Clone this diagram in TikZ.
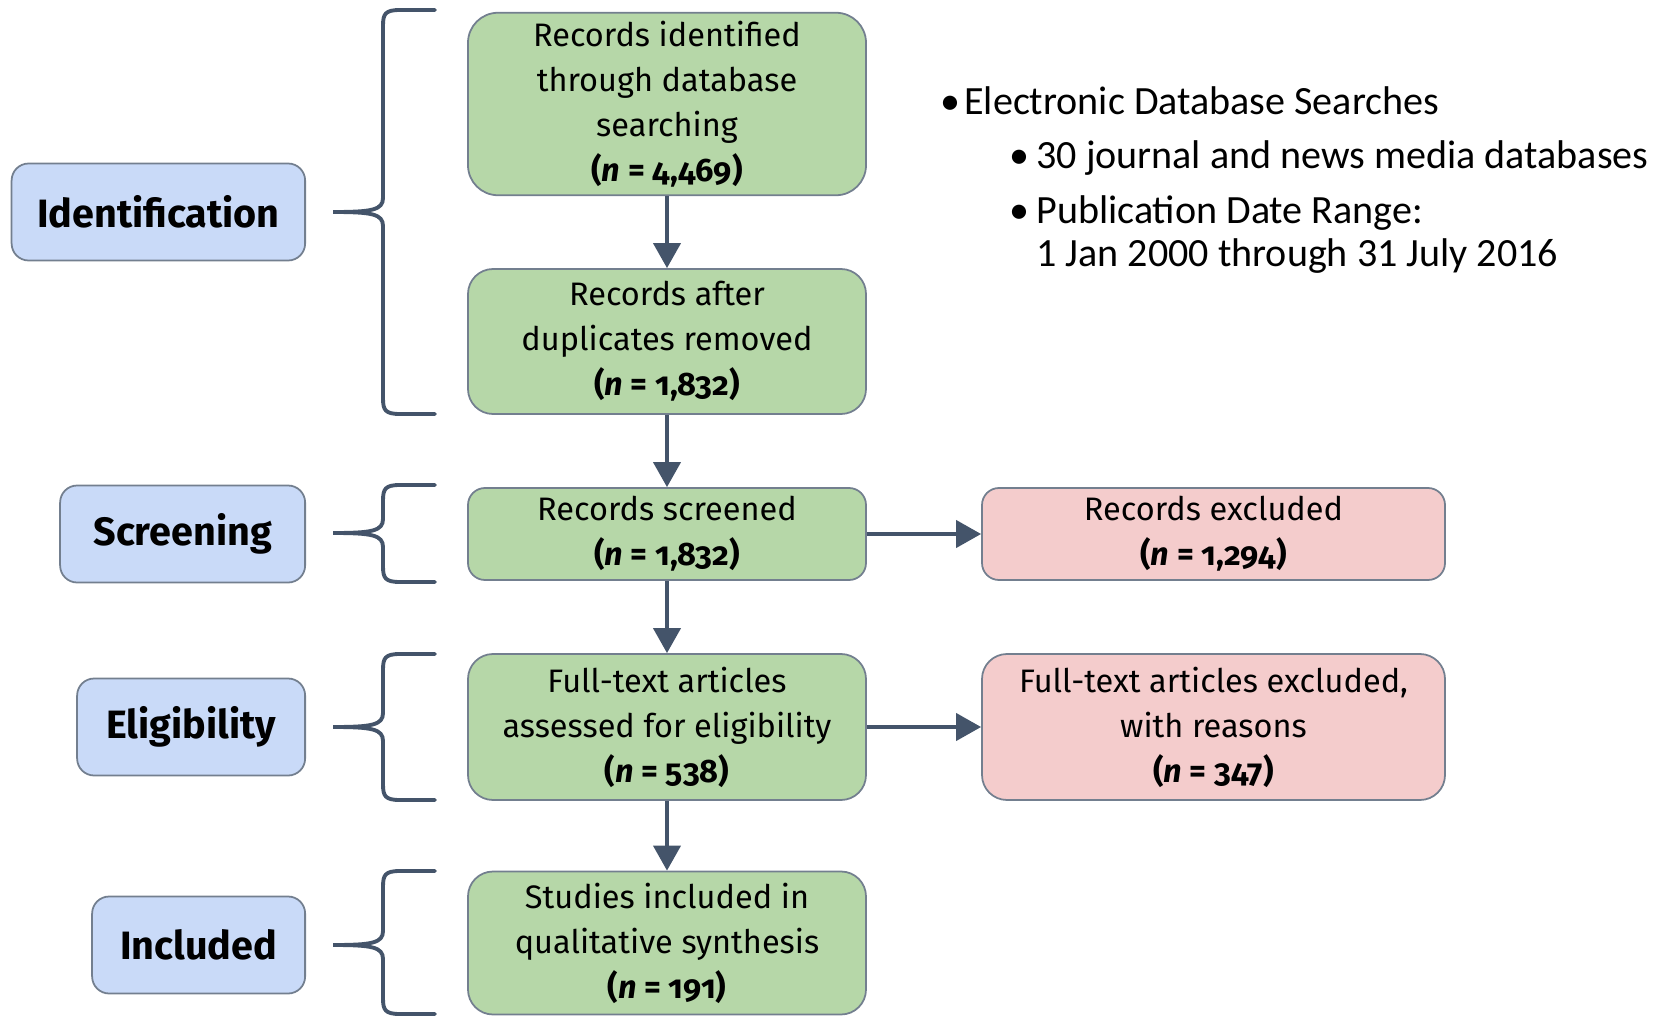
\documentclass[tikz,border=0pt]{standalone}
\usepackage{fontspec}
\setmainfont{Fira Sans}[Numbers=OldStyle]
\newfontfamily\notefont{Carlito}
\usetikzlibrary{arrows.meta, positioning}
\definecolor{stagegreen}{RGB}{182, 215, 168}
\definecolor{stageblue}{RGB}{201, 218, 248}
\definecolor{stagepink}{RGB}{244, 204, 204}
\definecolor{slate}{RGB}{68, 84, 106}

\begin{document}
\begin{tikzpicture}[x=0.2mm, y=-0.2mm,
  phase/.style={draw=slate!75, fill=stageblue, line width=1pt, rounded corners=3.4mm, minimum height=19.4mm, anchor=east, font=\fontsize{22.5}{26}\selectfont\bfseries},
  gbox/.style={draw=slate!75, fill=stagegreen, line width=1pt, minimum width=79.6mm, align=center, font=\fontsize{18.5}{25.6}\selectfont},
  rbox/.style={gbox, fill=stagepink, minimum width=92.6mm},
  flow/.style={draw=slate, line width=2.3pt, -{Triangle[length=5mm, width=5.4mm]}},
  brc/.style={draw=slate, line width=2.2pt},
  note/.style={anchor=base west, inner sep=0pt, font=\notefont\fontsize{22.8}{26}\selectfont}
]
  \useasboundingbox (0,0) rectangle (1656,1016);

  % phase labels
  \node[phase, minimum width=58.7mm] (ident) at (306, 212) {Identification};
  \node[phase, minimum width=49mm] (screen) at (306, 534) {Screening};
  \node[phase, minimum width=45.6mm] (elig) at (306, 727) {Eligibility};
  \node[phase, minimum width=42.6mm] (incl) at (306, 945) {Included};

  % flow boxes
  \node[gbox, minimum height=36.5mm, rounded corners=6mm] (found) at (667, 104) {Records identified\\through database\\searching\\\textbf{(\textit{n} = 4,469)}};
  \node[gbox, minimum height=29mm, rounded corners=5mm] (dedup) at (667, 341.5) {Records after\\duplicates removed\\\textbf{(\textit{n} = 1,832)}};
  \node[gbox, minimum height=18.4mm, rounded corners=3.4mm] (scrbox) at (667, 534) {Records screened\\\textbf{(\textit{n} = 1,832)}};
  \node[gbox, minimum height=29.2mm, rounded corners=5mm] (fulltext) at (667, 727) {Full-text articles\\assessed for eligibility\\\textbf{(\textit{n} = 538)}};
  \node[gbox, minimum height=28.6mm, rounded corners=5mm] (studies) at (667, 943) {Studies included in\\qualitative synthesis\\\textbf{(\textit{n} = 191)}};
  \node[rbox, minimum height=18.4mm, rounded corners=3.4mm] (excl) at (1213.5, 534) {Records excluded\\\textbf{(\textit{n} = 1,294)}};
  \node[rbox, minimum height=29.2mm, rounded corners=5mm] (exclft) at (1213.5, 727) {Full-text articles excluded,\\with reasons\\\textbf{(\textit{n} = 347)}};

  \draw[flow] (found) -- (dedup);
  \draw[flow] (dedup) -- (scrbox);
  \draw[flow] (scrbox) -- (fulltext);
  \draw[flow] (fulltext) -- (studies);
  \draw[flow] (scrbox) -- (excl);
  \draw[flow] (fulltext) -- (exclft);

  % braces
  \foreach \t/\m/\b in {10/212/414, 485/533/582, 654/727/800, 871/945/1014}
    \draw[brc, line cap=round] (435,\t) -- (400,\t) .. controls (385,\t) and (383,\t+4) .. (383,\t+16)
      -- (383,\m-14) .. controls (383,\m-2) and (372,\m) .. (333,\m)
      .. controls (372,\m) and (383,\m+2) .. (383,\m+14)
      -- (383,\b-16) .. controls (383,\b-4) and (385,\b) .. (400,\b) -- (435,\b);

  % search notes
  \node[note] (src) at (940, 114) {\makebox[4.8mm][l]{\textbullet}Electronic Database Searches};
  \node[note] (srcdb) at (1009, 168) {\makebox[5.4mm][l]{\textbullet}30 journal and news media databases};
  \node[note] (srcdate) at (1009, 223) {\makebox[5.4mm][l]{\textbullet}Publication Date Range:};
  \node[note] (srcspan) at (1036, 266) {1 Jan 2000 through 31 July 2016};
\end{tikzpicture}
\end{document}
